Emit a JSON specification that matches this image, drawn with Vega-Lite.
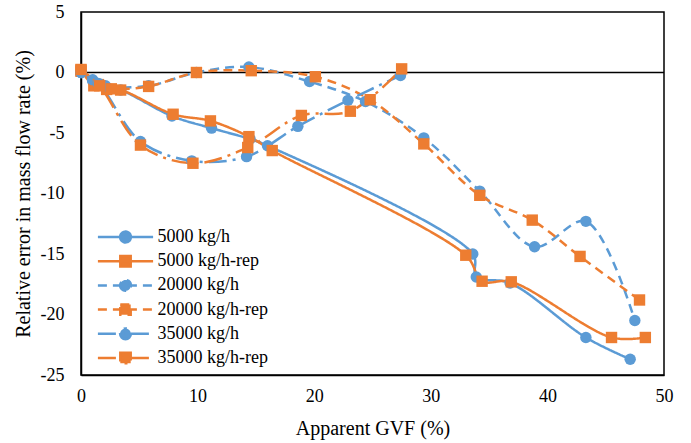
{
  "$schema": "https://vega.github.io/schema/vega-lite/v6.json",
  "width": 583,
  "height": 363,
  "autosize": "none",
  "padding": {"left": 81, "top": 12, "right": 27, "bottom": 68},
  "background": "white",
  "config": {
    "font": "Liberation Serif",
    "view": {"stroke": "black", "strokeWidth": 1.5},
    "legend": {
      "legendX": 35.5,
      "legendY": 216,
      "padding": 0,
      "labelFontSize": 18,
      "labelColor": "black",
      "labelFont": "Liberation Serif",
      "symbolSize": 64,
      "labelOffset": 23,
      "rowPadding": 2.2,
      "symbolStrokeWidth": 2.5
    }
  },
  "data": {
    "values": [
      {"series": "5000 kg/h", "x": 0, "y": 0},
      {"series": "5000 kg/h", "x": 1.0, "y": -0.7},
      {"series": "5000 kg/h", "x": 2.2, "y": -1.25},
      {"series": "5000 kg/h", "x": 3.4, "y": -1.45},
      {"series": "5000 kg/h", "x": 7.8, "y": -3.6},
      {"series": "5000 kg/h", "x": 11.2, "y": -4.6},
      {"series": "5000 kg/h", "x": 14.5, "y": -5.5},
      {"series": "5000 kg/h", "x": 16.0, "y": -6.05},
      {"series": "5000 kg/h", "x": 33.6, "y": -15.0},
      {"series": "5000 kg/h", "x": 33.9, "y": -16.9},
      {"series": "5000 kg/h", "x": 36.8, "y": -17.4},
      {"series": "5000 kg/h", "x": 43.3, "y": -21.9},
      {"series": "5000 kg/h", "x": 47.1, "y": -23.7},
      {"series": "5000 kg/h-rep", "x": 0, "y": 0.2},
      {"series": "5000 kg/h-rep", "x": 1.1, "y": -1.1},
      {"series": "5000 kg/h-rep", "x": 2.2, "y": -1.4},
      {"series": "5000 kg/h-rep", "x": 3.4, "y": -1.45},
      {"series": "5000 kg/h-rep", "x": 7.9, "y": -3.45},
      {"series": "5000 kg/h-rep", "x": 11.1, "y": -4.0},
      {"series": "5000 kg/h-rep", "x": 14.4, "y": -5.3},
      {"series": "5000 kg/h-rep", "x": 16.4, "y": -6.45},
      {"series": "5000 kg/h-rep", "x": 33.0, "y": -15.1},
      {"series": "5000 kg/h-rep", "x": 34.4, "y": -17.25},
      {"series": "5000 kg/h-rep", "x": 36.9, "y": -17.3},
      {"series": "5000 kg/h-rep", "x": 45.5, "y": -21.9},
      {"series": "5000 kg/h-rep", "x": 48.4, "y": -21.9},
      {"series": "20000 kg/h", "x": 0, "y": 0},
      {"series": "20000 kg/h", "x": 1.0, "y": -0.6},
      {"series": "20000 kg/h", "x": 2.1, "y": -1.1},
      {"series": "20000 kg/h", "x": 5.8, "y": -1.1},
      {"series": "20000 kg/h", "x": 9.9, "y": 0.0},
      {"series": "20000 kg/h", "x": 14.4, "y": 0.45},
      {"series": "20000 kg/h", "x": 19.6, "y": -0.75},
      {"series": "20000 kg/h", "x": 24.4, "y": -2.4},
      {"series": "20000 kg/h", "x": 29.4, "y": -5.4},
      {"series": "20000 kg/h", "x": 34.2, "y": -9.8},
      {"series": "20000 kg/h", "x": 38.9, "y": -14.4},
      {"series": "20000 kg/h", "x": 43.3, "y": -12.3},
      {"series": "20000 kg/h", "x": 47.5, "y": -20.5},
      {"series": "20000 kg/h-rep", "x": 0, "y": 0.1},
      {"series": "20000 kg/h-rep", "x": 1.5, "y": -1.0},
      {"series": "20000 kg/h-rep", "x": 2.6, "y": -1.35},
      {"series": "20000 kg/h-rep", "x": 5.8, "y": -1.15},
      {"series": "20000 kg/h-rep", "x": 9.9, "y": 0.0},
      {"series": "20000 kg/h-rep", "x": 14.6, "y": 0.15},
      {"series": "20000 kg/h-rep", "x": 20.1, "y": -0.35},
      {"series": "20000 kg/h-rep", "x": 24.8, "y": -2.25},
      {"series": "20000 kg/h-rep", "x": 29.4, "y": -5.9},
      {"series": "20000 kg/h-rep", "x": 34.2, "y": -10.15},
      {"series": "20000 kg/h-rep", "x": 38.7, "y": -12.2},
      {"series": "20000 kg/h-rep", "x": 42.8, "y": -15.2},
      {"series": "20000 kg/h-rep", "x": 47.9, "y": -18.8},
      {"series": "35000 kg/h", "x": 0, "y": 0},
      {"series": "35000 kg/h", "x": 1.5, "y": -0.9},
      {"series": "35000 kg/h", "x": 5.1, "y": -5.7},
      {"series": "35000 kg/h", "x": 9.5, "y": -7.3},
      {"series": "35000 kg/h", "x": 14.2, "y": -6.95},
      {"series": "35000 kg/h", "x": 18.6, "y": -4.45},
      {"series": "35000 kg/h", "x": 22.9, "y": -2.3},
      {"series": "35000 kg/h", "x": 27.4, "y": -0.25},
      {"series": "35000 kg/h-rep", "x": 0, "y": 0.25},
      {"series": "35000 kg/h-rep", "x": 1.6, "y": -1.1},
      {"series": "35000 kg/h-rep", "x": 5.1, "y": -6.0},
      {"series": "35000 kg/h-rep", "x": 9.6, "y": -7.5},
      {"series": "35000 kg/h-rep", "x": 14.3, "y": -6.2},
      {"series": "35000 kg/h-rep", "x": 18.9, "y": -3.55},
      {"series": "35000 kg/h-rep", "x": 23.1, "y": -3.2},
      {"series": "35000 kg/h-rep", "x": 27.5, "y": 0.3}
    ]
  },
  "encoding": {
    "x": {
      "field": "x", "type": "quantitative",
      "scale": {"domain": [0, 50], "nice": false, "zero": false},
      "axis": {
        "title": "Apparent  GVF (%)",
        "values": [0, 10, 20, 30, 40, 50],
        "grid": false, "ticks": false,
        "domainColor": "black", "domainWidth": 1.5,
        "labelFont": "Liberation Serif", "titleFont": "Liberation Serif",
        "labelFontSize": 18, "labelColor": "black", "labelPadding": 12, "labelFlush": false,
        "titleFontSize": 20, "titleFontWeight": "normal", "titleColor": "black",
        "titleY": 53, "titleBaseline": "middle"
      }
    },
    "y": {
      "field": "y", "type": "quantitative",
      "scale": {"domain": [-25, 5], "nice": false, "zero": false},
      "axis": {
        "title": "Relative error in mass flow rate (%)",
        "values": [-25, -20, -15, -10, -5, 0, 5],
        "labelExpr": "datum.value < 0 ? '-' + abs(datum.value) : '' + datum.value",
        "grid": false, "ticks": false,
        "domainColor": "black", "domainWidth": 1.5,
        "labelFont": "Liberation Serif", "titleFont": "Liberation Serif",
        "labelFontSize": 18, "labelColor": "black", "labelPadding": 17, "labelFlush": false,
        "titleFontSize": 20, "titleFontWeight": "normal", "titleColor": "black",
        "titleX": -58, "titleY": 181.5, "titleAngle": -90, "titleAlign": "center", "titleBaseline": "middle"
      }
    }
  },
  "layer": [
    {
      "data": {"values": [{"v": 0}]},
      "mark": {"type": "rule", "color": "black", "strokeWidth": 1.5},
      "encoding": {"y": {"field": "v", "type": "quantitative"}, "x": null}
    },
    {
      "mark": {"type": "line", "interpolate": "catmull-rom", "strokeWidth": 2.5},
      "encoding": {
        "color": {
          "field": "series", "type": "nominal",
          "scale": {
            "domain": ["5000 kg/h", "5000 kg/h-rep", "20000 kg/h", "20000 kg/h-rep", "35000 kg/h", "35000 kg/h-rep"],
            "range": ["#5B9BD5", "#ED7D31", "#5B9BD5", "#ED7D31", "#5B9BD5", "#ED7D31"]
          },
          "legend": {
            "title": null,
            "orient": "none",
            "encoding": {
              "symbols": {
                "shape": {"value": {"expr": "indexof(datum.value, 'rep') >= 0 ? 'M-6.9,0H6.9M-1.3,-1.3H1.3V1.3H-1.3Z' : 'M-6.9,0H6.9M-1.35,0A1.35,1.35,0,1,0,1.35,0A1.35,1.35,0,1,0,-1.35,0'"}},
                "strokeWidth": {"value": 2.5},
                "opacity": {"value": 1}
              }
            }
          }
        },
        "strokeDash": {
          "field": "series", "type": "nominal",
          "scale": {
            "domain": ["5000 kg/h", "5000 kg/h-rep", "20000 kg/h", "20000 kg/h-rep", "35000 kg/h", "35000 kg/h-rep"],
            "range": [[1, 0], [1, 0], [9, 6], [9, 6], [18, 6, 3, 6], [18, 6, 3, 6]]
          },
          "legend": {
            "title": null,
            "orient": "none",
            "encoding": {
              "symbols": {
                "shape": {"value": {"expr": "indexof(datum.value, 'rep') >= 0 ? 'M-6.9,0H6.9M-1.3,-1.3H1.3V1.3H-1.3Z' : 'M-6.9,0H6.9M-1.35,0A1.35,1.35,0,1,0,1.35,0A1.35,1.35,0,1,0,-1.35,0'"}},
                "strokeWidth": {"value": 2.5},
                "opacity": {"value": 1}
              }
            }
          }
        }
      }
    },
    {
      "mark": {"type": "point", "filled": true, "size": 130, "opacity": 1},
      "encoding": {
        "color": {
          "field": "series", "type": "nominal",
          "legend": {
            "title": null,
            "orient": "none",
            "encoding": {
              "symbols": {
                "shape": {"value": {"expr": "indexof(datum.value, 'rep') >= 0 ? 'M-6.9,0H6.9M-1.3,-1.3H1.3V1.3H-1.3Z' : 'M-6.9,0H6.9M-1.35,0A1.35,1.35,0,1,0,1.35,0A1.35,1.35,0,1,0,-1.35,0'"}},
                "strokeWidth": {"value": 2.5},
                "opacity": {"value": 1}
              }
            }
          }
        },
        "shape": {
          "field": "series", "type": "nominal",
          "scale": {
            "domain": ["5000 kg/h", "5000 kg/h-rep", "20000 kg/h", "20000 kg/h-rep", "35000 kg/h", "35000 kg/h-rep"],
            "range": ["circle", "square", "circle", "square", "circle", "square"]
          },
          "legend": {"disable": true, "orient": "right", "title": null, "symbolOpacity": 0, "labelOpacity": 0}
        }
      }
    }
  ]
}
